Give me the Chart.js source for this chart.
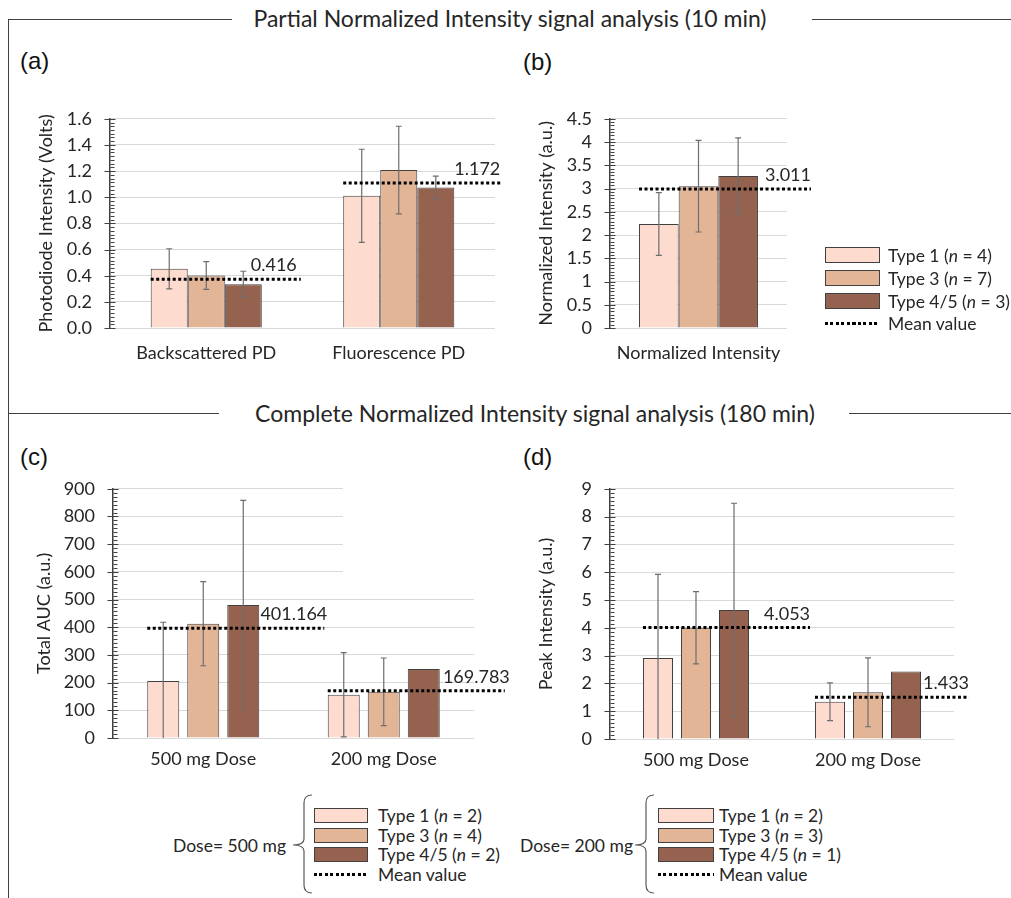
<!DOCTYPE html>
<html>
<head>
<meta charset="utf-8">
<script src="https://cdn.jsdelivr.net/npm/chart.js@4.4.1/dist/chart.umd.min.js"></script>
<style>
  body { margin: 0; background: #fff; width: 1011px; height: 898px; position: relative; overflow: hidden; font-family: Lato, sans-serif; color: #262626; }
  canvas, .abs { position: absolute; }
  .hl { position: absolute; height: 0; border-top: 1.5px solid #404040; }
  .vl { position: absolute; width: 0; border-left: 1.5px solid #404040; }
  .title { position: absolute; font-size: 23px; transform: translate(-50%, -50%); white-space: nowrap; }
  .plabel { position: absolute; font-family: "Liberation Sans", Arial, sans-serif; font-size: 24px; transform: translateY(-50%); color: #111; }
  .box { position: absolute; border: 1px solid #404040; box-sizing: border-box; }
  .ltxt { position: absolute; font-size: 17.5px; transform: translateY(-50%); white-space: nowrap; }
  .dots { position: absolute; height: 3px; background: repeating-linear-gradient(90deg, #000 0 3px, transparent 3px 5.5px); }
</style>
</head>
<body>

<div class="vl" style="left:8px; top:19px; height:880px;"></div>
<div class="hl" style="left:8px; top:19px; width:224px;"></div>
<div class="hl" style="left:812px; top:19px; width:199px;"></div>
<div class="hl" style="left:8px; top:413px; width:211px;"></div>
<div class="hl" style="left:849px; top:413px; width:162px;"></div>
<div class="title" style="left:510px; top:18px;">Partial Normalized Intensity signal analysis (10 min)</div>
<div class="title" style="left:535px; top:413px;">Complete Normalized Intensity signal analysis (180 min)</div>

<div class="plabel" style="left:20px; top:61px;">(a)</div>
<div class="plabel" style="left:523px; top:62px;">(b)</div>
<div class="plabel" style="left:20px; top:457px;">(c)</div>
<div class="plabel" style="left:523px; top:457px;">(d)</div>

<canvas id="chartA" width="505" height="290" style="left:0px; top:90px;"></canvas>
<canvas id="chartB" width="330" height="290" style="left:500px; top:90px;"></canvas>
<canvas id="chartC" width="520" height="330" style="left:0px; top:460px;"></canvas>
<canvas id="chartD" width="500" height="330" style="left:500px; top:460px;"></canvas>

<!-- blank patch over the upper right gridlines of (c), as in the original -->
<div class="abs" style="left:343px; top:476px; width:135px; height:112px; background:#fff;"></div>

<div id="legendB"></div>
<div id="legendC"></div>
<div id="legendD"></div>

<script>
// colours for the three stone types
const seriesNames = ['Type 1', 'Type 3', 'Type 4/5'];
const seriesColors = ['#FDDBCF', '#E3B597', '#94624F'];

// (a) photodiode intensity, 10 min
const aLabels = ['Backscattered PD', 'Fluorescence PD'];
const aType1 = [0.453, 1.011];
const aType3 = [0.401, 1.208];
const aType45 = [0.335, 1.075];
const aSd1 = [0.153, 0.356];
const aSd3 = [0.106, 0.335];
const aSd45 = [0.099, 0.087];
const aMean = [0.373, 1.109];
const aMeanText = ['0.416', '1.172'];

// (b) normalized intensity, 10 min
const bLabels = ['Normalized Intensity'];
const bType1 = [2.237];
const bType3 = [3.05];
const bType45 = [3.27];
const bSd1 = [0.675];
const bSd3 = [0.985];
const bSd45 = [0.82];
const bMean = [2.99];
const bMeanText = ['3.011'];
const count10 = [4, 7, 3];

// (c) total AUC, 180 min
const cLabels = ['500 mg Dose', '200 mg Dose'];
const cType1 = [206, 156];
const cType3 = [413, 167];
const cType45 = [480, 249];
const cSd1 = [212, 152];
const cSd3 = [152, 122];
const cSd45 = [378, null];
const cMean = [396, 170.5];
const cMeanText = ['401.164', '169.783'];

// (d) peak intensity, 180 min
const dLabels = ['500 mg Dose', '200 mg Dose'];
const dType1 = [2.91, 1.34];
const dType3 = [4.0, 1.68];
const dType45 = [4.64, 2.43];
const dSd1 = [3.01, 0.68];
const dSd3 = [1.30, 1.24];
const dSd45 = [3.84, null];
const dMean = [4.01, 1.50];
const dMeanText = ['4.053', '1.433'];

const count500 = [2, 4, 2];
const count200 = [2, 3, 1];

Chart.defaults.font.family = 'Lato';
Chart.defaults.color = '#262626';

// error bars, mean lines and excel-like minor ticks
const extras = {
    id: 'extras',
    afterDatasetsDraw(chart, args, opts) {
        const ctx = chart.ctx;
        const y = chart.scales.y;
        ctx.save();

        // error bars
        ctx.strokeStyle = '#6E6E6E';
        ctx.lineWidth = 1.2;
        opts.errors.forEach((sds, di) => {
            const meta = chart.getDatasetMeta(di);
            meta.data.forEach((bar, i) => {
                const sd = sds[i];
                if (sd == null) return;
                const v = chart.data.datasets[di].data[i];
                const yHi = y.getPixelForValue(v + sd);
                const yLo = y.getPixelForValue(Math.max(v - sd, y.min));
                ctx.beginPath();
                ctx.moveTo(bar.x, yHi); ctx.lineTo(bar.x, yLo);
                ctx.moveTo(bar.x - 3, yHi); ctx.lineTo(bar.x + 3, yHi);
                if (v - sd > y.min) { ctx.moveTo(bar.x - 3, yLo); ctx.lineTo(bar.x + 3, yLo); }
                ctx.stroke();
            });
        });

        // mean value lines
        const first = chart.getDatasetMeta(0).data;
        const last = chart.getDatasetMeta(chart.data.datasets.length - 1).data;
        opts.means.forEach((m, i) => {
            const x0 = first[i].x - first[i].width / 2;
            const x1 = last[i].x + last[i].width / 2 + opts.extend[i];
            const yy = y.getPixelForValue(m);
            ctx.beginPath();
            ctx.setLineDash([3, 2.5]);
            ctx.strokeStyle = '#000';
            ctx.lineWidth = 3;
            ctx.moveTo(x0, yy); ctx.lineTo(x1, yy);
            ctx.stroke();
            ctx.setLineDash([]);
            ctx.fillStyle = '#262626';
            ctx.font = '18px Lato';
            ctx.textAlign = 'right';
            ctx.textBaseline = 'alphabetic';
            ctx.fillText(opts.meanText[i], x1 + opts.textShift[i], yy - 8);
        });

        // axis tick marks
        ctx.strokeStyle = '#404040';
        ctx.lineWidth = 1;
        const ax = Math.round(y.right) + 0.5;
        const ticks = y.ticks.map(t => t.value);
        ticks.forEach((t, k) => {
            const py = Math.round(y.getPixelForValue(t)) + 0.5;
            ctx.beginPath(); ctx.moveTo(ax - 6, py); ctx.lineTo(ax + 5, py); ctx.stroke();
            if (k < ticks.length - 1) {
                const step = (ticks[k + 1] - t) / 7;
                for (let j = 1; j < 7; j++) {
                    const my = Math.round(y.getPixelForValue(t + step * j)) + 0.5;
                    ctx.beginPath(); ctx.moveTo(ax, my); ctx.lineTo(ax + 4, my); ctx.stroke();
                }
            }
        });
        ctx.restore();
    }
};

function makeChart(id, labels, series, yOpts, layout, barOpts, extraOpts) {
    return new Chart(document.getElementById(id), {
        type: 'bar',
        data: {
            labels: labels,
            datasets: series.map((d, i) => ({
                label: seriesNames[i],
                data: d,
                backgroundColor: seriesColors[i],
                borderColor: '#404040',
                borderWidth: 1,
                borderSkipped: 'bottom',
                categoryPercentage: barOpts.cat,
                barPercentage: barOpts.bar
            }))
        },
        options: {
            responsive: false,
            animation: false,
            devicePixelRatio: 1,
            layout: { padding: layout.padding },
            plugins: {
                legend: { display: false },
                tooltip: { enabled: false },
                extras: extraOpts
            },
            scales: {
                x: {
                    grid: { display: false },
                    border: { display: false },
                    ticks: { font: { size: 18 }, color: '#262626', padding: layout.xPad, maxRotation: 0 },
                    afterFit: s => { s.height = layout.xH; }
                },
                y: {
                    min: yOpts.min,
                    max: yOpts.max,
                    grid: { color: '#D9D9D9', drawTicks: false },
                    border: { color: '#404040', width: 1.5 },
                    ticks: { stepSize: yOpts.step, autoSkip: false, font: { size: 18 }, color: '#262626', padding: 18, callback: yOpts.fmt },
                    title: { display: true, text: yOpts.title, font: { size: 18 }, color: '#262626', padding: { top: layout.titlePad, bottom: 0 } },
                    afterFit: s => { s.width = layout.yW; }
                }
            }
        },
        plugins: [extras]
    });
}

makeChart('chartA', aLabels, [aType1, aType3, aType45],
    { min: 0, max: 1.6, step: 0.2, title: 'Photodiode Intensity (Volts)', fmt: v => v.toFixed(1) },
    { padding: { top: 13, right: 10, left: 0, bottom: 0 }, xH: 52, xPad: 6, yW: 110, titlePad: 35 },
    { cat: 0.577, bar: 1.0 },
    { errors: [aSd1, aSd3, aSd45], means: aMean, meanText: aMeanText, extend: [39, 46], textShift: [-4, 0] });

makeChart('chartB', bLabels, [bType1, bType3, bType45],
    { min: 0, max: 4.5, step: 0.5, title: 'Normalized Intensity (a.u.)', fmt: v => String(+v.toFixed(1)) },
    { padding: { top: 27, right: 43, left: 0, bottom: 0 }, xH: 52, xPad: 6, yW: 110, titlePad: 35 },
    { cat: 0.672, bar: 1.0 },
    { errors: [bSd1, bSd3, bSd45], means: bMean, meanText: bMeanText, extend: [53], textShift: [0] });

makeChart('chartC', cLabels, [cType1, cType3, cType45],
    { min: 0, max: 900, step: 100, title: 'Total AUC (a.u.)', fmt: v => String(v) },
    { padding: { top: 23, right: 46, left: 0, bottom: 0 }, xH: 52, xPad: 2, yW: 113, titlePad: 33 },
    { cat: 0.665, bar: 0.8 },
    { errors: [cSd1, cSd3, cSd45], means: cMean, meanText: cMeanText, extend: [65, 65], textShift: [3, 5] });

makeChart('chartD', dLabels, [dType1, dType3, dType45],
    { min: 0, max: 9, step: 1, title: 'Peak Intensity (a.u.)', fmt: v => String(v) },
    { padding: { top: 21, right: 46, left: 0, bottom: 0 }, xH: 51, xPad: 2, yW: 110, titlePad: 35 },
    { cat: 0.663, bar: 0.79 },
    { errors: [dSd1, dSd3, dSd45], means: dMean, meanText: dMeanText, extend: [61, 48], textShift: [0, 0] });

// legends (html)
function legend(el, counts, boxX, boxW, boxH, textX, rows) {
    let html = '';
    counts.forEach((n, i) => {
        html += `<div class="box" style="left:${boxX}px; top:${rows[i] - boxH / 2}px; width:${boxW}px; height:${boxH}px; background:${seriesColors[i]};"></div>`;
        html += `<div class="ltxt" style="left:${textX}px; top:${rows[i]}px;">${seriesNames[i]} (<i>n</i> = ${n})</div>`;
    });
    html += `<div class="dots" style="left:${boxX}px; top:${rows[3] - 1.5}px; width:${boxW}px;"></div>`;
    html += `<div class="ltxt" style="left:${textX}px; top:${rows[3]}px;">Mean value</div>`;
    document.getElementById(el).innerHTML = html;
}

legend('legendB', count10, 825, 55, 16, 888, [255, 278, 301, 323]);

function dose(el, label, counts, labelX, braceX, boxX, boxW, textX) {
    const rows = [815, 835, 854, 874];
    legend(el, counts, boxX, boxW, 15, textX, rows);
    const host = document.getElementById(el);
    host.insertAdjacentHTML('beforeend',
        `<div class="ltxt" style="left:${labelX}px; top:845px;">${label}</div>` +
        `<svg class="abs" style="left:${braceX}px; top:793px;" width="24" height="102">` +
        `<path d="M21 2 Q13 2 13 10 L13 46 Q13 52 2 52 Q13 52 13 58 L13 92 Q13 100 21 100" fill="none" stroke="#595959" stroke-width="1.2"/></svg>`);
}
dose('legendC', 'Dose= 500 mg', count500, 173, 291, 314, 54, 378);
dose('legendD', 'Dose= 200 mg', count200, 520, 633, 658, 56, 719);
</script>
</body>
</html>
